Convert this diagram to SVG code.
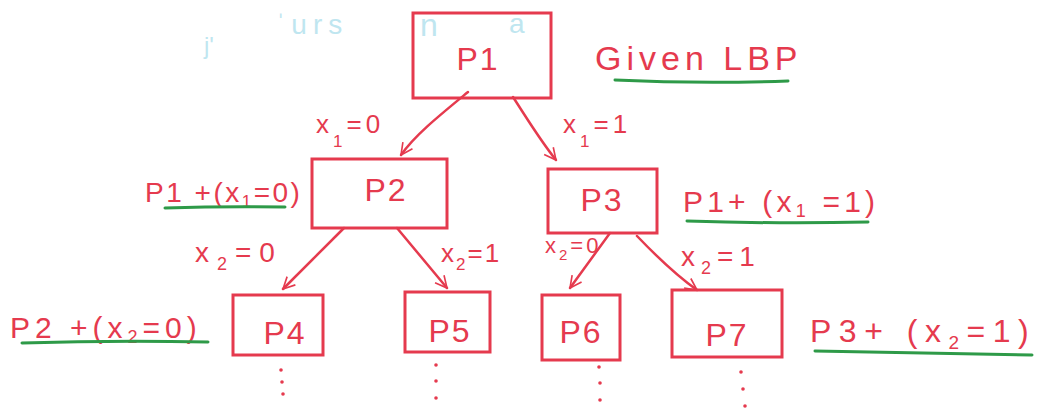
<svg xmlns="http://www.w3.org/2000/svg" width="1056" height="415" viewBox="0 0 1056 415">
<style>
.box{fill:none;stroke:#e53a4e;stroke-width:3}
.t{font-family:"Liberation Sans",Arial,sans-serif;fill:#e53a4e}
.nl{font-size:32px;text-anchor:middle;letter-spacing:2px}
.ul{stroke:#2e9a48;stroke-width:3;fill:none;stroke-linecap:round}
.edge{stroke:#e53a4e;stroke-width:2.5;fill:none;stroke-linecap:round}
.dot{fill:#e53a4e}
.faint{font-family:"Liberation Sans",Arial,sans-serif;fill:#bfe6f0}
</style>
<defs>
<marker id="ah2" viewBox="0 0 12 12" refX="11" refY="6" markerWidth="14" markerHeight="14" orient="auto" markerUnits="userSpaceOnUse">
<path d="M1,1 L11,6 L1,11" fill="none" stroke="#e53a4e" stroke-width="1.4"/>
</marker>
</defs>
<rect width="1056" height="415" fill="#ffffff"/>
<g id="faded">
<text class="faint" font-size="24" x="204" y="54">j'</text>
<text class="faint" font-size="28" letter-spacing="6" x="276" y="34">ˈurs</text>
<text class="faint" font-size="32" x="420" y="36">n</text>
<text class="faint" font-size="28" x="509" y="33">a</text>
</g>
<g id="connectors">
<path class="edge" d="M468,92 C440,115 415,135 401,155" marker-end="url(#ah2)"/>
<path class="edge" d="M513,97 C528,120 540,140 556,160" marker-end="url(#ah2)"/>
<path class="edge" d="M344,228 L283,289" marker-end="url(#ah2)"/>
<path class="edge" d="M397,228 L447,288" marker-end="url(#ah2)"/>
<path class="edge" d="M610,233 L570,288" marker-end="url(#ah2)"/>
<path class="edge" d="M637,236 C660,260 680,278 697,290" marker-end="url(#ah2)"/>
<text class="t" font-size="26" letter-spacing="4" x="316" y="133">x<tspan font-size="17" dy="14">1</tspan><tspan dy="-14">=0</tspan></text>
<text class="t" font-size="26" letter-spacing="4" x="563" y="133">x<tspan font-size="17" dy="14">1</tspan><tspan dy="-14">=1</tspan></text>
<text class="t" font-size="28" letter-spacing="8" x="195" y="262">x<tspan font-size="18" dy="8">2</tspan><tspan dy="-8">=0</tspan></text>
<text class="t" font-size="26" letter-spacing="2" x="441" y="262">x<tspan font-size="17" dy="8">2</tspan><tspan dy="-8">=1</tspan></text>
<text class="t" font-size="22" letter-spacing="3" x="545" y="253">x<tspan font-size="15" dy="7">2</tspan><tspan dy="-7">=0</tspan></text>
<text class="t" font-size="28" letter-spacing="6" x="681" y="266">x<tspan font-size="18" dy="8">2</tspan><tspan dy="-8">=1</tspan></text>
</g>
<g id="P1">
<rect class="box" x="413" y="13" width="138" height="85"/>
<text class="t nl" font-size="34" x="478" y="70">P1</text>
</g>
<g id="given">
<text class="t" font-size="34" letter-spacing="5" x="595" y="70">Given LBP</text>
<path class="ul" d="M615,80 Q700,84 788,81"/>
</g>
<g id="P2">
<rect class="box" x="312" y="159" width="135" height="69"/>
<text class="t nl" x="386" y="201">P2</text>
</g>
<g id="lbl-p2">
<text class="t" font-size="28" letter-spacing="2.5" x="145" y="202">P1 +(x<tspan font-size="17" dy="5">1</tspan><tspan dy="-5">=0)</tspan></text>
<path class="ul" d="M165,208 Q225,206 285,207"/>
</g>
<g id="P3">
<rect class="box" x="548" y="169" width="109" height="64"/>
<text class="t nl" x="602" y="211">P3</text>
</g>
<g id="lbl-p3">
<text class="t" font-size="30" letter-spacing="4.2" x="683" y="212">P1+ (x<tspan font-size="18" dy="5">1</tspan><tspan dy="-5"> =1)</tspan></text>
<path class="ul" d="M687,221 Q780,224 868,222"/>
</g>
<g id="P4">
<rect class="box" x="233" y="295" width="90" height="60"/>
<text class="t nl" x="285" y="344">P4</text>
<circle class="dot" cx="281" cy="370" r="1.8"/>
<circle class="dot" cx="282" cy="382" r="1.8"/>
<circle class="dot" cx="283" cy="394" r="1.8"/>
</g>
<g id="P5">
<rect class="box" x="405" y="292" width="85" height="60"/>
<text class="t nl" x="450" y="342">P5</text>
<circle class="dot" cx="436" cy="365" r="1.8"/>
<circle class="dot" cx="436" cy="381" r="1.8"/>
<circle class="dot" cx="436" cy="398" r="1.8"/>
</g>
<g id="lbl-p4">
<text class="t" font-size="30" letter-spacing="5" x="10" y="338">P2 +(x<tspan font-size="18" dy="5">2</tspan><tspan dy="-5">=0)</tspan></text>
<path class="ul" d="M22,343 Q115,340 208,342"/>
</g>
<g id="P6">
<rect class="box" x="542" y="295" width="78" height="65"/>
<text class="t nl" x="581" y="343">P6</text>
<circle class="dot" cx="599" cy="367" r="1.8"/>
<circle class="dot" cx="600" cy="383" r="1.8"/>
<circle class="dot" cx="600" cy="400" r="1.8"/>
</g>
<g id="P7">
<rect class="box" x="672" y="290" width="110" height="67"/>
<text class="t nl" x="727" y="346">P7</text>
<circle class="dot" cx="741" cy="372" r="1.8"/>
<circle class="dot" cx="743" cy="389" r="1.8"/>
<circle class="dot" cx="745" cy="406" r="1.8"/>
</g>
<g id="lbl-p7">
<text class="t" font-size="32" letter-spacing="7.5" x="810" y="342">P3+ (x<tspan font-size="19" dy="7">2</tspan><tspan dy="-7">=1)</tspan></text>
<path class="ul" d="M815,351 Q925,353 1032,355"/>
</g>
</svg>
